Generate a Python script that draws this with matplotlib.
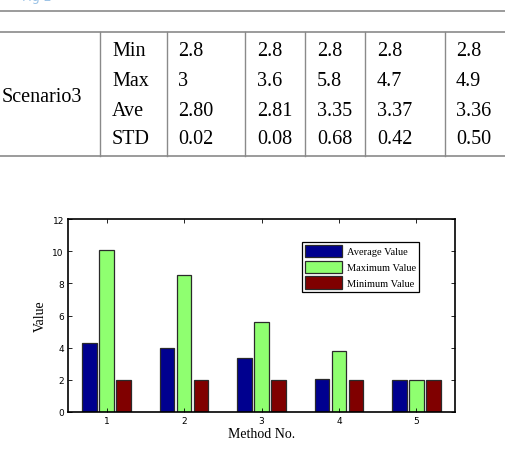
import numpy as np
import matplotlib
matplotlib.use("Agg")
import matplotlib.pyplot as plt

# table data (Scenario3)
row_names = ["Min", "Max", "Ave", "STD"]
table_cols = [
    ["2.8", "3", "2.80", "0.02"],
    ["2.8", "3.6", "2.81", "0.08"],
    ["2.8", "5.8", "3.35", "0.68"],
    ["2.8", "4.7", "3.37", "0.42"],
    ["2.8", "4.9", "3.36", "0.50"],
]
scenario = "Scenario3"

# bar chart data
methods = [1, 2, 3, 4, 5]
avg_vals = [4.3, 4.0, 3.35, 2.05, 2.0]
max_vals = [10.1, 8.5, 5.6, 3.8, 2.0]
min_vals = [2.0, 2.0, 2.0, 2.0, 2.0]
series_names = ["Average Value", "Maximum Value", "Minimum Value"]
colors = ["#00008f", "#8fff70", "#800000"]

W, H = 505, 452
fig = plt.figure(figsize=(W / 100, H / 100), dpi=100)

# page / table layer in pixel coords
pg = fig.add_axes([0, 0, 1, 1])
pg.set_xlim(0, W)
pg.set_ylim(H, 0)
pg.axis("off")

grey = "#8a8a8a"
pg.text(22, -3, "Fig 2", color="#9cc3e6", fontsize=9, va="center", family="DejaVu Sans")
pg.plot([0, W], [12, 12], color=grey, lw=1.2)
pg.plot([0, W], [33, 33], color=grey, lw=1.2)
pg.plot([0, W], [157, 157], color=grey, lw=1.2)
for x in [100, 167, 245, 305, 365, 445]:
    pg.plot([x, x], [33, 157], color=grey, lw=1.0)

serif = ["Liberation Serif", "DejaVu Serif"]
fs = 14.5
row_y = [52, 81, 111, 140]
pg.text(2, 97, scenario, fontsize=fs, va="center", family=serif)
for name, y in zip(row_names, row_y):
    pg.text(112, y, name, fontsize=fs, va="center", family=serif)
col_x = [178, 257, 317, 377, 456]
for x, col in zip(col_x, table_cols):
    for val, y in zip(col, row_y):
        pg.text(x, y, val, fontsize=fs, va="center", family=serif)

# bar chart
ax = fig.add_axes([68 / W, 1 - 413 / H, (455 - 68) / W, (413 - 220) / H])
x = np.array(methods)
w = 0.19
off = 0.22
for i, vals in enumerate([avg_vals, max_vals, min_vals]):
    ax.bar(x + (i - 1) * off, vals, width=w, color=colors[i],
           edgecolor="#2a2a2a", linewidth=0.9, label=series_names[i])

ax.set_xlim(0.5, 5.5)
ax.set_ylim(0, 12)
ax.set_xticks(methods)
ax.set_yticks(np.arange(0, 13, 2))
ax.tick_params(labelsize=6.5, length=3, width=0.6, top=True, right=True, direction="in", pad=3)
for s in ax.spines.values():
    s.set_linewidth(1.2)
ax.set_xlabel("Method No.", fontsize=10, family=serif, labelpad=1)
ax.set_ylabel("Value", fontsize=10, family=serif, labelpad=4)

leg = ax.legend(loc="upper right", bbox_to_anchor=(0.92, 0.91), prop={"family": serif, "size": 7.5},
                fancybox=False, framealpha=1, edgecolor="black", handlelength=3.6,
                handleheight=1.5, labelspacing=0.3, borderpad=0.3, handletextpad=0.4)
leg.get_frame().set_linewidth(0.9)

fig.savefig("out.png", dpi=100)
